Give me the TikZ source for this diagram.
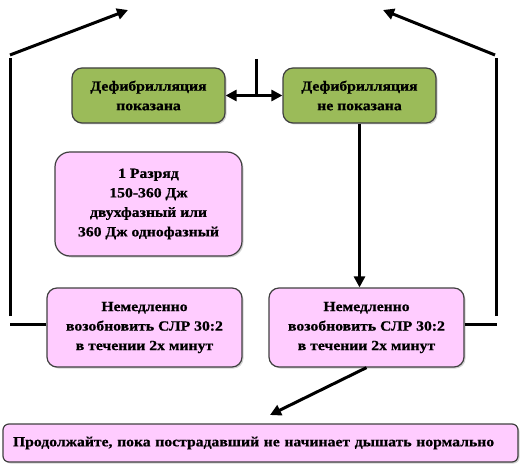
\documentclass[tikz,border=0pt]{standalone}
\usepackage{fontspec}
\setmainfont{Liberation Serif}
\newfontfamily\boxfont[FakeStretch=1.12,BoldFeatures={FakeBold=0.8}]{Liberation Serif}
\usetikzlibrary{arrows.meta,shadows}
\definecolor{gfill}{HTML}{9BBB59}
\definecolor{pfill}{HTML}{FFCCFF}
\definecolor{bord}{HTML}{404040}
\begin{document}
\begin{tikzpicture}[x=1pt,y=-1pt,
  box/.style={draw=bord,line width=1.2pt,rounded corners=10pt,align=center,
    font=\boxfont\fontsize{14}{19.5}\selectfont\bfseries,inner sep=0pt,
    drop shadow={shadow xshift=1.5pt,shadow yshift=-1.5pt,opacity=0.35}},
  gbox/.style={box,fill=gfill,minimum width=153pt,minimum height=55pt},
  pbox/.style={box,fill=pfill},
  conn/.style={line width=3pt},
  arr/.style={conn,-{Triangle[length=11pt,width=11pt]}},
  darr/.style={conn,{Triangle[length=11pt,width=11pt]}-{Triangle[length=11pt,width=11pt]}}]
\useasboundingbox (0,0) rectangle (524,465);
\node[gbox] (g1) at (148.5,95.5) {Дефибрилляция\\показана};
\node[gbox] (g2) at (359.5,95.5) {Дефибрилляция\\не показана};
\node[pbox,rounded corners=15pt,minimum width=187pt,minimum height=104pt] (p1) at (148.5,204)
  {1 Разряд\\150-360 Дж\\двухфазный или\\360 Дж однофазный};
\node[pbox,minimum width=195pt,minimum height=79pt] (pl) at (144.5,327.5)
  {Немедленно\\возобновить СЛР 30:2\\в течении 2х минут};
\node[pbox,minimum width=195pt,minimum height=79pt] (pr) at (366.5,327.5)
  {Немедленно\\возобновить СЛР 30:2\\в течении 2х минут};
\node[pbox,rounded corners=6pt,minimum width=515pt,minimum height=38pt,text width=505pt,align=left] (b) at (260.5,443)
  {\hspace*{5pt}Продолжайте, пока пострадавший  не начинает дышать нормально};
% coordinates
\coordinate (t) at (256,59);
\coordinate (lh) at (10,324);
\coordinate (lv1) at (10,316);
\coordinate (lv2) at (10,58);
\coordinate (la1) at (10,55);
\coordinate (la2) at (128,10);
\coordinate (rh) at (497,324);
\coordinate (rv1) at (496,316);
\coordinate (rv2) at (496,58);
\coordinate (ra1) at (495,55);
\coordinate (ra2) at (383,10);
\coordinate (ba) at (270,415);
% connectors
\draw[conn] (t) -- (t |- g1.east);
\draw[darr] (g1.east) -- (g2.west);
\draw[arr] (g2.south) -- (g2.south |- pr.north);
\draw[conn] (pl.west |- lh) -- (lh);
\draw[conn] (lv1) -- (lv2);
\draw[arr] (la1) -- (la2);
\draw[conn] (pr.east |- rh) -- (rh);
\draw[conn] (rv1) -- (rv2);
\draw[arr] (ra1) -- (ra2);
\draw[arr] (pr.south) -- (ba);
\end{tikzpicture}
\end{document}
